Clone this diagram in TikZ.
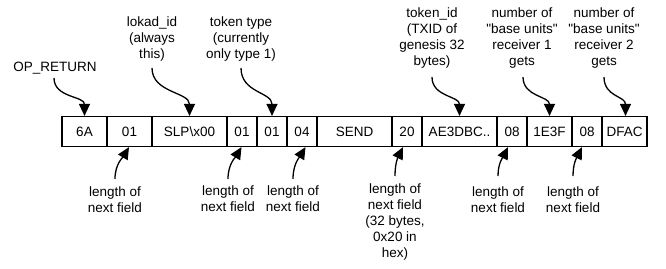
\documentclass[tikz,border=0pt]{standalone}
\usepackage{fontspec}
\setmainfont{Liberation Sans}
\usetikzlibrary{arrows.meta}
\begin{document}
\begin{tikzpicture}[x=1pt,y=-1pt,
  cell/.style={draw, line width=1.2pt, minimum height=30pt, inner sep=0pt, font=\fontsize{13.5}{15.5}\selectfont},
  lbl/.style={align=center, inner sep=0pt, font=\fontsize{13.5}{15.8}\selectfont},
  arr/.style={line width=1.3pt, -{Triangle[length=12pt,width=11pt]}}]
\useasboundingbox (0,0) rectangle (666,268);
% cells
\node[cell, minimum width=45pt] (c1) at (84.5,131.5) {6A};
\node[cell, minimum width=45pt] (c2) at (129.5,131.5) {01};
\node[cell, minimum width=75pt] (c3) at (189.5,131.5) {SLP\textbackslash x00};
\node[cell, minimum width=30pt] (c4) at (242,131.5) {01};
\node[cell, minimum width=30pt] (c5) at (272,131.5) {01};
\node[cell, minimum width=30pt] (c6) at (302,131.5) {04};
\node[cell, minimum width=75pt] (c7) at (354.5,131.5) {SEND};
\node[cell, minimum width=30pt] (c8) at (407,131.5) {20};
\node[cell, minimum width=75pt] (c9) at (459.5,131.5) {AE3DBC..};
\node[cell, minimum width=30pt] (c10) at (512,131.5) {08};
\node[cell, minimum width=45pt] (c11) at (549.5,131.5) {1E3F};
\node[cell, minimum width=30pt] (c12) at (587,131.5) {08};
\node[cell, minimum width=45pt] (c13) at (624.5,131.5) {DFAC};
% top labels
\node[lbl] (opr) at (55,68) {OP\_RETURN};
\node[lbl] (lok) at (152,39) {lokad\_id\\(always\\this)};
\node[lbl] (tty) at (241,39) {token type\\(currently\\only type 1)};
\node[lbl] (tid) at (432,38) {token\_id\\(TXID of\\genesis 32\\bytes)};
\node[lbl] (nr1) at (522,38) {number of\\\textquotedbl base units\textquotedbl\\receiver 1\\gets};
\node[lbl] (nr2) at (604,38) {number of\\\textquotedbl base units\textquotedbl\\receiver 2\\gets};
% top arrow starts
\coordinate (sopr) at (54,78);
\coordinate (slok) at (152,68);
\coordinate (stty) at (241,68);
\coordinate (stid) at (432,77);
\coordinate (snr1) at (523,77);
\coordinate (snr2) at (604,77);
\draw[arr] (sopr) .. controls +(0,20) and +(0,-20) .. (c1.north);
\draw[arr] (slok) .. controls +(0,25) and +(0,-24) .. (c3.north);
\draw[arr] (stty) .. controls +(0,25) and +(0,-24) .. (c5.north);
\draw[arr] (stid) .. controls +(0,20) and +(0,-20) .. (c9.north);
\draw[arr] (snr1) .. controls +(0,20) and +(0,-20) .. (c11.north);
\draw[arr] (snr2) .. controls +(0,20) and +(0,-20) .. ([xshift=1pt]c13.north);
% bottom labels
\node[lbl] (l2) at (115,199.5) {length of\\next field};
\node[lbl] (l4) at (228,199) {length of\\next field};
\node[lbl] (l6) at (293,199) {length of\\next field};
\node[lbl] (l8) at (395,222) {length of\\next field\\(32 bytes,\\0x20 in\\hex)};
\node[lbl] (l10) at (498,200) {length of\\next field};
\node[lbl] (l12) at (573,200) {length of\\next field};
% bottom arrow starts
\coordinate (b2) at (115,179);
\coordinate (b4) at (228,179);
\coordinate (b6) at (293,179);
\coordinate (b8) at (395,176);
\coordinate (b10) at (498,176);
\coordinate (b12) at (573,176);
\draw[arr] (b2) .. controls +(0,-15) and +(-6,10) .. ([xshift=-0.5pt]c2.south);
\draw[arr] (b4) .. controls +(0,-15) and +(-6,10) .. ([xshift=-0.5pt]c4.south);
\draw[arr] (b6) .. controls +(0,-15) and +(-6,10) .. ([xshift=3.5pt]c6.south);
\draw[arr] (b8) .. controls +(0,-13) and +(-5,10) .. ([xshift=-4pt]c8.south);
\draw[arr] (b10) .. controls +(0,-13) and +(-5,10) .. ([xshift=-4pt]c10.south);
\draw[arr] (b12) .. controls +(0,-13) and +(-5,10) .. ([xshift=-5pt]c12.south);
\end{tikzpicture}
\end{document}
